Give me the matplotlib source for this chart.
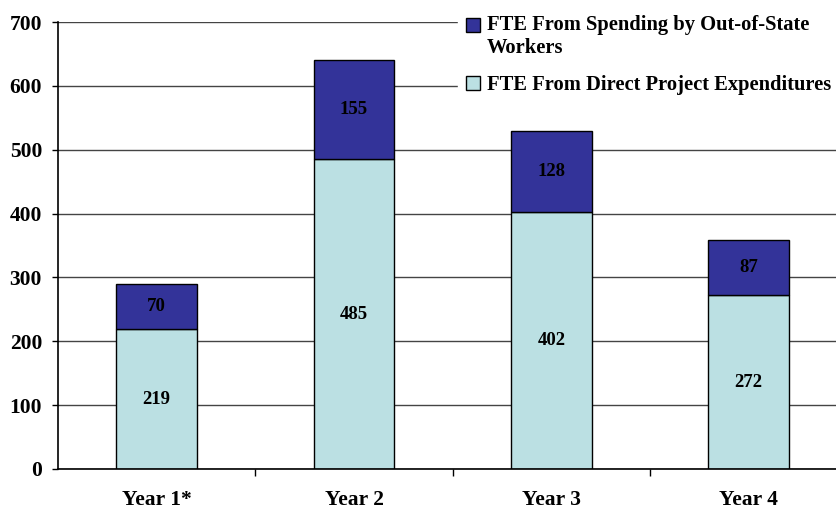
import matplotlib.pyplot as plt
from matplotlib.legend_handler import HandlerPatch
from matplotlib.patches import Rectangle
import numpy as np

categories = ['Year 1*', 'Year 2', 'Year 3', 'Year 4']
direct_values = [219, 485, 402, 272]
spending_values = [70, 155, 128, 87]
yticks = [0, 100, 200, 300, 400, 500, 600, 700]

plt.rcParams['font.family'] = 'Liberation Serif'
plt.rcParams['font.weight'] = 'bold'

dark_blue = '#333399'
light_blue = '#bbe0e3'

x = np.arange(len(categories))
width = 0.41

fig = plt.figure(figsize=(8.36, 5.15), dpi=100)
ax = fig.add_axes([58 / 836, 1 - 469 / 515, 1 - 58 / 836, 447 / 515])

ax.set_axisbelow(True)
ax.yaxis.grid(True, color='#444444', linewidth=1.0)

rects1 = ax.bar(x, direct_values, width, color=light_blue, edgecolor='black', linewidth=1.0)
rects2 = ax.bar(x, spending_values, width, bottom=direct_values, color=dark_blue,
                edgecolor='black', linewidth=1.0)

# value labels in the middle of each segment
for i in range(len(categories)):
    ax.text(x[i], direct_values[i] / 2, str(direct_values[i]), ha='center', va='center',
            fontsize=13.5, fontweight='bold')
    ax.text(x[i], direct_values[i] + spending_values[i] / 2, str(spending_values[i]),
            ha='center', va='center', fontsize=13.5, fontweight='bold')

ax.set_ylim(0, 700)
ax.set_yticks(yticks)
ax.set_xlim(-0.5, 3.443)
ax.set_xticks(x)
ax.set_xticklabels(categories)
ax.set_xticks(x[:-1] + 0.5, minor=True)
ax.tick_params(axis='x', which='major', length=0, pad=15, labelsize=15.5)
ax.tick_params(axis='x', which='minor', length=5, width=1, direction='out')
ax.tick_params(axis='y', length=4.5, width=1, pad=7, labelsize=15.5)

for side in ['top', 'right']:
    ax.spines[side].set_visible(False)
ax.spines['left'].set_linewidth(1.2)
ax.spines['bottom'].set_linewidth(1.2)


# legend square sits next to the first line of a two-line label
def first_line_patch(legend, orig_handle, xdescent, ydescent, width, height, fontsize):
    return Rectangle((-xdescent, -ydescent + 0.6 * fontsize), width, height)


def copy_style(legend_handle, orig_handle):
    legend_handle.update_from(orig_handle[0])


handles = [rects2, rects1]
labels = ['FTE From Spending by Out-of-State\nWorkers', 'FTE From Direct Project Expenditures']
leg = ax.legend(handles, labels, loc='upper left', bbox_to_anchor=(458 / 836, 1 - 7 / 515),
                bbox_transform=fig.transFigure, frameon=True, framealpha=1, edgecolor='white',
                facecolor='white', fancybox=False, fontsize=14.8, handlelength=0.68,
                handleheight=0.68, handletextpad=0.33, labelspacing=0.82, borderpad=0.4,
                borderaxespad=0,
                handler_map={rects2: HandlerPatch(patch_func=first_line_patch, update_func=copy_style)})
for t in leg.get_texts():
    t.set_fontweight('bold')

fig.savefig('out.png', dpi=100)
